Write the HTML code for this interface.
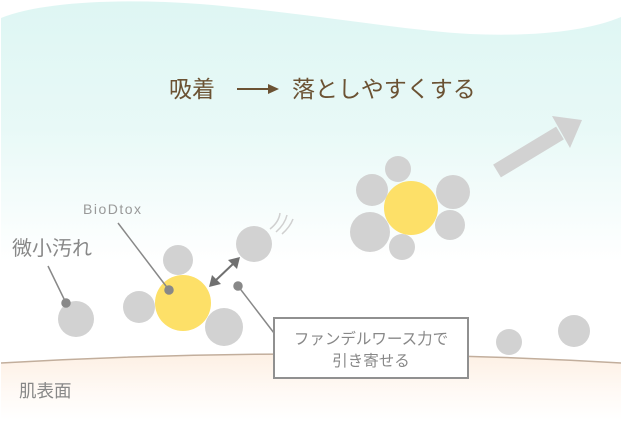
<!DOCTYPE html>
<html><head><meta charset="utf-8"><style>
html,body{margin:0;padding:0;background:#fff;}
svg{display:block;}
text{font-family:"Liberation Sans","Noto Sans CJK JP",sans-serif;}
</style></head><body>
<svg width="623" height="435" viewBox="0 0 623 435" xmlns="http://www.w3.org/2000/svg">
<defs>
<linearGradient id="sky" x1="0" y1="0" x2="0" y2="1">
<stop offset="0" stop-color="#def6f3"/>
<stop offset="0.35" stop-color="#e8f9f7"/>
<stop offset="0.72" stop-color="#ffffff"/>
<stop offset="1" stop-color="#ffffff"/>
</linearGradient>
<linearGradient id="skin" x1="0" y1="0" x2="0" y2="1">
<stop offset="0" stop-color="#fdf0e4"/>
<stop offset="0.6" stop-color="#fffaf6"/>
<stop offset="1" stop-color="#ffffff"/>
</linearGradient>
</defs>
<path d="M1 18 C40 2 120 -2 200 4 C300 12 400 30 470 34 C540 37 590 30 621 17 L621 360 L1 363 Z" fill="url(#sky)"/>
<path d="M1 363 Q310 345 621 363 L621 420 L1 420 Z" fill="url(#skin)"/>
<path d="M1 363 Q310 345 621 363" fill="none" stroke="#c2ae9c" stroke-width="1.5"/>

<text x="169" y="97" font-size="23" fill="#6b5233">吸着</text>
<line x1="237" y1="89" x2="270" y2="89" stroke="#6b5233" stroke-width="2"/>
<polygon points="268,84 279,89 268,94" fill="#6b5233"/>
<text x="292" y="97" font-size="23" fill="#6b5233">落としやすくする</text>

<line x1="497" y1="171" x2="560" y2="133" stroke="#d2d2d2" stroke-width="15"/>
<polygon points="582,120 552,116 570,148" fill="#d2d2d2"/>

<g fill="#d2d2d2">
<circle cx="398" cy="169" r="13"/>
<circle cx="372" cy="190" r="16"/>
<circle cx="453" cy="192" r="17"/>
<circle cx="370" cy="232" r="20"/>
<circle cx="450" cy="225" r="15"/>
<circle cx="402" cy="247" r="13"/>
<circle cx="178" cy="260" r="15"/>
<circle cx="139" cy="307" r="16"/>
<circle cx="224" cy="327" r="19"/>
<circle cx="76" cy="319" r="18"/>
<circle cx="254" cy="244" r="18"/>
<circle cx="509" cy="342" r="13"/>
<circle cx="574" cy="331" r="16"/>
</g>
<circle cx="411" cy="208" r="27" fill="#fde068"/>
<circle cx="183" cy="303" r="28" fill="#fde068"/>

<g fill="none" stroke="#d0d0d0" stroke-width="1.5">
<path d="M270 229 Q279 222 280 213"/>
<path d="M276 232 Q285 224 287 215"/>
<path d="M282 234 Q290 227 293 219"/>
</g>

<line x1="215" y1="281" x2="234" y2="263" stroke="#707070" stroke-width="2"/>
<polygon points="209,287 212,275 221,284" fill="#707070"/>
<polygon points="240,257 228,260 237,269" fill="#707070"/>

<g stroke="#888" stroke-width="1.5" fill="#888">
<line x1="48" y1="266" x2="66" y2="303"/>
<circle cx="66" cy="303" r="4"/>
<line x1="118" y1="223" x2="169" y2="290"/>
<circle cx="169" cy="290" r="4"/>
<line x1="238" y1="286" x2="274" y2="333"/>
<circle cx="238" cy="286" r="4"/>
</g>

<text x="12" y="255" font-size="20" fill="#888">微小汚れ</text>
<text x="83" y="214" font-size="14" fill="#999" letter-spacing="1.5">BioDtox</text>
<text x="19" y="397" font-size="17.5" fill="#888">肌表面</text>

<rect x="274" y="318" width="194" height="60" fill="#fff" stroke="#909090" stroke-width="2"/>
<text x="371" y="344" font-size="15.5" fill="#888" text-anchor="middle">ファンデルワース力で</text>
<text x="371" y="366" font-size="15.5" fill="#888" text-anchor="middle">引き寄せる</text>
</svg>
</body></html>
